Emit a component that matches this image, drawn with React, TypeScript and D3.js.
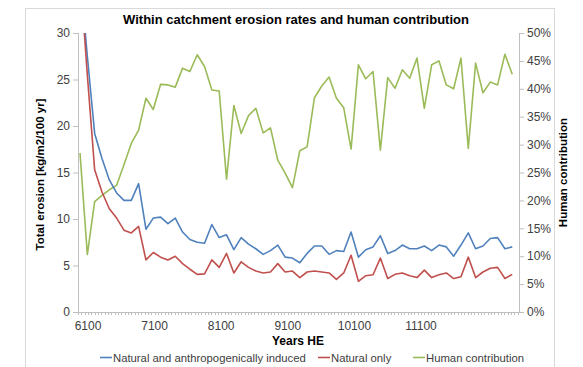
import React, { useEffect } from "react";
import * as d3 from "d3";

// years of each sample (HE)
const years = [
  5980, 6090, 6200, 6310, 6420, 6530, 6640, 6750, 6860, 6970,
  7080, 7190, 7300, 7410, 7520, 7630, 7740, 7850, 7960, 8070,
  8180, 8290, 8400, 8510, 8620, 8730, 8840, 8950, 9060, 9170,
  9280, 9390, 9500, 9610, 9720, 9830, 9940, 10050, 10160, 10270,
  10380, 10490, 10600, 10710, 10820, 10930, 11040, 11150, 11260, 11370,
  11480, 11590, 11700, 11810, 11920, 12030, 12140, 12250, 12360, 12470,
];

// total erosion, natural + anthropogenic [kg/m2/100 yr]
const totalErosion = [
  36.5, 27.5, 19.2, 16.5, 14.2, 12.8, 12.0, 12.0, 13.8, 8.9,
  10.1, 10.2, 9.5, 10.1, 8.6, 7.8, 7.5, 7.4, 9.4, 8.0,
  8.3, 6.7, 8.0, 7.3, 6.8, 6.2, 6.6, 7.2, 5.9, 5.8,
  5.3, 6.3, 7.1, 7.1, 6.2, 6.6, 6.5, 8.6, 5.9, 6.7,
  7.0, 8.2, 6.3, 6.6, 7.2, 6.8, 6.8, 7.1, 6.6, 7.2,
  7.0, 6.0, 7.2, 8.5, 6.8, 7.1, 7.9, 8.0, 6.8, 7.0,
];

// natural erosion only
const naturalErosion = [
  36.5, 25.5, 15.3, 12.9, 11.1, 10.1, 8.8, 8.5, 9.2, 5.6,
  6.4, 5.9, 5.6, 6.0, 5.2, 4.6, 4.05, 4.1, 5.6, 4.8,
  6.3, 4.2, 5.4, 4.8, 4.4, 4.2, 4.3, 5.2, 4.3, 4.4,
  3.7, 4.3, 4.4, 4.3, 4.2, 3.5, 4.2, 6.1, 3.3, 3.9,
  4.0, 5.8, 3.6, 4.05, 4.2, 3.9, 3.7, 4.5, 3.7, 4.0,
  4.2, 3.6, 3.8, 5.9, 3.7, 4.3, 4.7, 4.8, 3.6, 4.05,
];

// human contribution [%]
const humanContribution = [
  28.5, 10.3, 19.8, 20.9, 21.9, 22.7, 26.4, 30.2, 32.6, 38.3,
  36.3, 40.8, 40.7, 40.3, 43.7, 43.1, 46.1, 44.0, 39.8, 39.6,
  23.8, 37.0, 32.0, 35.2, 36.5, 32.1, 33.0, 27.2, 24.9, 22.3,
  28.9, 29.6, 38.4, 40.5, 42.1, 38.3, 36.6, 29.2, 44.3, 41.8,
  43.1, 29.0, 42.0, 40.1, 43.4, 41.9, 45.5, 36.5, 44.3, 45.0,
  40.7, 40.0, 45.5, 29.3, 44.6, 39.3, 41.2, 40.7, 46.2, 42.6,
];

const yearLabels = [6100, 7100, 8100, 9100, 10100, 11100];
const leftTicks = [0, 5, 10, 15, 20, 25, 30];
const rightTicks = [0, 5, 10, 15, 20, 25, 30, 35, 40, 45, 50];

const seriesNames = [
  "Natural and anthropogenically induced",
  "Natural only",
  "Human contribution",
];
const colors = ["#4f81bd", "#c0504d", "#9bbb59"];

const W = 583;
const H = 367;
const left = 78;
const right = 519;
const top = 33;
const bottom = 312;
const font = "'Liberation Sans', Arial, sans-serif";
const axisColor = "#bfbfbf";

export default function App() {
  useEffect(() => {
    document.body.style.margin = "0";
  }, []);

  const x = d3.scaleLinear().domain([6100, 11100]).range([88, 421]);
  const yL = d3.scaleLinear().domain([0, 30]).range([bottom, top]);
  const yR = d3.scaleLinear().domain([0, 50]).range([bottom, top]);

  const lineL = d3
    .line<number>()
    .x((_, i) => x(years[i]))
    .y((d) => yL(d));
  const lineR = d3
    .line<number>()
    .x((_, i) => x(years[i]))
    .y((d) => yR(d));

  // minor ticks every 50 years along the category axis
  const minorTicks = d3.range(x.invert(left), x.invert(right) + 1, 50);

  const legendX = [100, 318, 413];

  return (
    <svg width={W} height={H} style={{ display: "block", fontFamily: font }}>
      <rect x={0} y={0} width={W} height={H} fill="#fff" />
      <rect x={25.5} y={8.5} width={529} height={370} fill="none" stroke="#d9d9d9" />
      <defs>
        <clipPath id="plot">
          <rect x={left} y={top} width={right - left} height={bottom - top} />
        </clipPath>
      </defs>

      <text x={296} y={24} textAnchor="middle" fontSize={13} fontWeight="bold" fill="#000">
        Within catchment erosion rates and human contribution
      </text>

      {/* left axis */}
      <line x1={left + 0.5} x2={left + 0.5} y1={top} y2={bottom} stroke={axisColor} />
      {leftTicks.map((t) => (
        <g key={"l" + t}>
          <line x1={left - 5} x2={left} y1={yL(t) + 0.5} y2={yL(t) + 0.5} stroke={axisColor} />
          <text x={left - 8} y={yL(t)} dy="0.35em" textAnchor="end" fontSize={12} fill="#404040">
            {t}
          </text>
        </g>
      ))}
      <text
        transform={`translate(44,${(top + bottom) / 2 + 2}) rotate(-90)`}
        textAnchor="middle"
        fontSize={11.5}
        fontWeight="bold"
      >
        Total erosion [kg/m2/100 yr]
      </text>

      {/* right axis */}
      <line x1={right + 0.5} x2={right + 0.5} y1={top} y2={bottom} stroke={axisColor} />
      {rightTicks.map((t) => (
        <g key={"r" + t}>
          <line x1={right} x2={right + 5} y1={yR(t) + 0.5} y2={yR(t) + 0.5} stroke={axisColor} />
          <text x={right + 8} y={yR(t)} dy="0.35em" fontSize={12} fill="#404040">
            {t + "%"}
          </text>
        </g>
      ))}
      <text
        transform={`translate(567,${(top + bottom) / 2}) rotate(-90)`}
        textAnchor="middle"
        fontSize={11.5}
        fontWeight="bold"
      >
        Human contribution
      </text>

      {/* bottom axis */}
      <line x1={left} x2={right} y1={bottom + 0.5} y2={bottom + 0.5} stroke={axisColor} />
      {minorTicks.map((t) => (
        <line
          key={"m" + t}
          x1={Math.round(x(t)) + 0.5}
          x2={Math.round(x(t)) + 0.5}
          y1={bottom}
          y2={bottom + 3}
          stroke={axisColor}
        />
      ))}
      {yearLabels.map((t) => (
        <text key={"x" + t} x={x(t)} y={330} textAnchor="middle" fontSize={12} fill="#404040">
          {t}
        </text>
      ))}
      <text x={298} y={345} textAnchor="middle" fontSize={12} fontWeight="bold">
        Years HE
      </text>

      {/* series */}
      <g clipPath="url(#plot)" fill="none" strokeWidth={1.6} strokeLinejoin="round">
        <path d={lineR(humanContribution) ?? ""} stroke={colors[2]} />
        <path d={lineL(totalErosion) ?? ""} stroke={colors[0]} />
        <path d={lineL(naturalErosion) ?? ""} stroke={colors[1]} />
      </g>

      {/* legend */}
      {seriesNames.map((name, i) => (
        <g key={name}>
          <line x1={legendX[i]} x2={legendX[i] + 12} y1={357.5} y2={357.5} stroke={colors[i]} strokeWidth={1.6} />
          <text x={legendX[i] + 13} y={361.5} fontSize={11.3} fill="#404040">
            {name}
          </text>
        </g>
      ))}
    </svg>
  );
}
